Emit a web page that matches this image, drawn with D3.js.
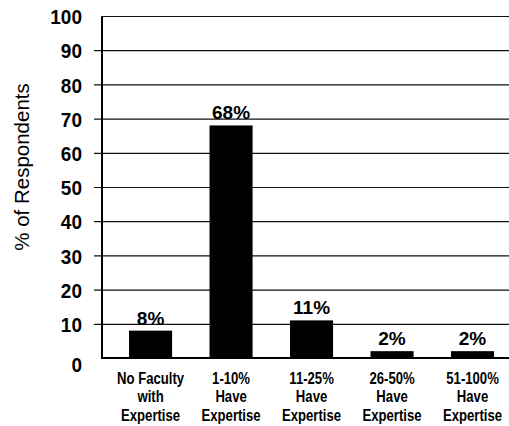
<!DOCTYPE html>
<html>
<head>
<meta charset="utf-8">
<script src="https://cdn.jsdelivr.net/npm/d3@7"></script>
<style>
  html, body { margin: 0; padding: 0; background: #fff; }
  svg { display: block; }
  text { fill: #000; }
</style>
</head>
<body>
<svg id="chart" width="509" height="426"></svg>
<script>
// ---- data ----
const categories = [
  ["No Faculty", "with", "Expertise"],
  ["1-10%", "Have", "Expertise"],
  ["11-25%", "Have", "Expertise"],
  ["26-50%", "Have", "Expertise"],
  ["51-100%", "Have", "Expertise"]
];
const values = [8, 68, 11, 2, 2];
const valueLabels = ["8%", "68%", "11%", "2%", "2%"];
const yTicks = [0, 10, 20, 30, 40, 50, 60, 70, 80, 90, 100];
const yTitle = "% of Respondents";

// ---- layout ----
const svg = d3.select("#chart");
const axisX = 102, plotTop = 16, plotBottom = 358, rightEdge = 509;

const y = d3.scaleLinear().domain([0, 100]).range([plotBottom, plotTop]);
const x = d3.scaleBand()
  .domain(d3.range(categories.length))
  .range([91.6, 531.5])
  .paddingInner(0.465)
  .paddingOuter(0.465);

const boldFont = "'Liberation Sans', Arial, Helvetica, sans-serif";

// gridlines
svg.append("g")
  .selectAll("line")
  .data(yTicks.filter(d => d > 0))
  .join("line")
  .attr("x1", d => d === 100 ? axisX : axisX - 8)
  .attr("x2", rightEdge)
  .attr("y1", d => y(d) + 0.5)
  .attr("y2", d => y(d) + 0.5)
  .attr("stroke", "#111")
  .attr("stroke-width", 1.2);

// bars
svg.append("g")
  .selectAll("rect")
  .data(values)
  .join("rect")
  .attr("x", (d, i) => x(i))
  .attr("width", x.bandwidth())
  .attr("y", d => y(d))
  .attr("height", d => y(0) - y(d))
  .attr("fill", "#000");

// baseline & left axis
svg.append("line")
  .attr("x1", axisX).attr("x2", rightEdge)
  .attr("y1", y(0)).attr("y2", y(0))
  .attr("stroke", "#000").attr("stroke-width", 2);
svg.append("line")
  .attr("x1", axisX).attr("x2", axisX)
  .attr("y1", y(100)).attr("y2", y(0) + 1)
  .attr("stroke", "#000").attr("stroke-width", 2);

// y tick labels
svg.append("g")
  .selectAll("text")
  .data(yTicks)
  .join("text")
  .attr("transform", d => `translate(82,${y(d) + (d === 0 ? 7 : 1)}) scale(0.95,1)`)
  .attr("text-anchor", "end")
  .attr("dominant-baseline", "central")
  .style("font-family", boldFont)
  .style("font-weight", "bold")
  .style("font-size", "20px")
  .text(d => d);

// value labels
svg.append("g")
  .selectAll("text")
  .data(values)
  .join("text")
  .attr("x", (d, i) => x(i) + x.bandwidth() / 2)
  .attr("y", d => y(d) - 6)
  .attr("text-anchor", "middle")
  .style("font-family", boldFont)
  .style("font-weight", "bold")
  .style("font-size", "19px")
  .text((d, i) => valueLabels[i]);

// x category labels (condensed look)
const xl = svg.append("g")
  .selectAll("text")
  .data(categories)
  .join("text")
  .attr("transform", (d, i) => `translate(${x(i) + x.bandwidth() / 2},0) scale(0.82,1)`)
  .attr("text-anchor", "middle")
  .style("font-family", boldFont)
  .style("font-weight", "bold")
  .style("font-size", "16px");
xl.each(function(lines) {
  const t = d3.select(this);
  lines.forEach((ln, j) => {
    t.append("tspan")
      .attr("x", 0)
      .attr("y", 384 + j * 18.5)
      .text(ln);
  });
});

// y title
svg.append("text")
  .attr("transform", `translate(29,167) rotate(-90)`)
  .attr("text-anchor", "middle")
  .style("font-family", "'Liberation Sans', Arial, Helvetica, sans-serif")
  .style("font-size", "20.5px")
  .text(yTitle);
</script>
</body>
</html>
